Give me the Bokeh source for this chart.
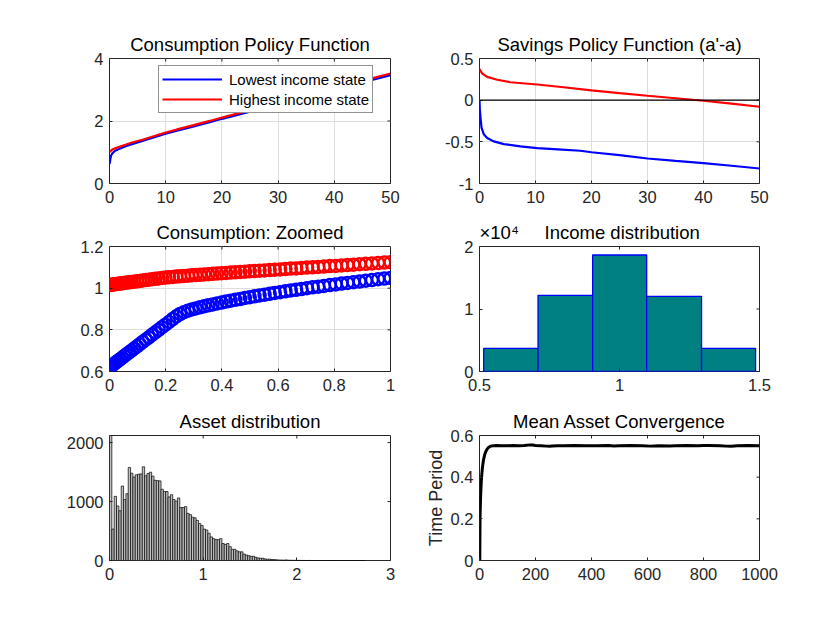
import numpy as np
from bokeh.plotting import figure
from bokeh.models import Range1d, FixedTicker, Legend, LegendItem, Span
from bokeh.layouts import column, row
from bokeh.embed import file_html
from bokeh.resources import INLINE

# ---------------- data ----------------
# consumption policy over the full asset grid
cons_a_low = [0, 0.1, 0.25, 0.5, 1, 2, 3, 4, 5, 6, 8, 10, 12, 15, 18, 20, 25, 30, 35, 40, 45, 50]
cons_low = [0.62, 0.72, 0.88, 0.965, 1.047, 1.13, 1.20, 1.26, 1.31, 1.37, 1.48, 1.59, 1.69,
            1.83, 1.97, 2.07, 2.30, 2.535, 2.77, 3.00, 3.235, 3.47]
cons_a_high = [0, 0.5, 1, 2, 3, 4, 5, 6, 8, 10, 12, 15, 18, 20, 25, 30, 35, 40, 45, 50]
cons_high = [1.015, 1.085, 1.125, 1.19, 1.25, 1.31, 1.36, 1.41, 1.52, 1.63, 1.73, 1.87, 2.01,
             2.11, 2.345, 2.58, 2.815, 3.05, 3.285, 3.52]

# savings policy a' - a
sav_a_low = [0, 0.05, 0.18, 0.36, 0.77, 1.37, 2.56, 4.35, 7.3, 10.3, 14, 18, 20, 25, 30, 35, 40, 45, 50]
sav_low = [0, -0.10, -0.21, -0.33, -0.41, -0.455, -0.495, -0.527, -0.555, -0.575, -0.59,
           -0.607, -0.625, -0.66, -0.70, -0.728, -0.755, -0.787, -0.82]
sav_a_high = [0, 0.48, 1.37, 3.16, 5.5, 10.3, 15, 20, 25, 30, 35, 40, 45, 50]
sav_high = [0.373, 0.32, 0.28, 0.245, 0.215, 0.188, 0.155, 0.118, 0.085, 0.053, 0.023,
            -0.007, -0.042, -0.079]

# consumption at the asset grid points in [0, 1]
zoom_a = [0.000, 0.002, 0.005, 0.009, 0.014, 0.019, 0.025, 0.031, 0.038, 0.045,
          0.053, 0.061, 0.070, 0.079, 0.088, 0.098, 0.108, 0.118, 0.129, 0.140,
          0.151, 0.163, 0.175, 0.187, 0.199, 0.212, 0.225, 0.238, 0.251, 0.265,
          0.279, 0.293, 0.307, 0.322, 0.337, 0.352, 0.367, 0.383, 0.399, 0.415,
          0.431, 0.448, 0.465, 0.482, 0.499, 0.516, 0.534, 0.552, 0.570, 0.588,
          0.607, 0.626, 0.645, 0.664, 0.683, 0.703, 0.723, 0.743, 0.763, 0.784,
          0.805, 0.826, 0.847, 0.868, 0.890, 0.912, 0.934, 0.956, 0.978, 1.000]
zoom_low = [0.620, 0.622, 0.625, 0.629, 0.634, 0.640, 0.646, 0.652, 0.659, 0.666,
            0.675, 0.683, 0.692, 0.701, 0.711, 0.721, 0.731, 0.742, 0.753, 0.764,
            0.776, 0.788, 0.800, 0.813, 0.825, 0.838, 0.852, 0.865, 0.876, 0.885,
            0.892, 0.898, 0.903, 0.908, 0.913, 0.918, 0.922, 0.927, 0.931, 0.936,
            0.940, 0.944, 0.948, 0.953, 0.957, 0.961, 0.965, 0.969, 0.973, 0.977,
            0.981, 0.985, 0.989, 0.992, 0.996, 1.000, 1.004, 1.007, 1.011, 1.015,
            1.018, 1.022, 1.025, 1.029, 1.032, 1.036, 1.039, 1.043, 1.046, 1.049]
zoom_high = [1.015, 1.015, 1.016, 1.017, 1.018, 1.019, 1.020, 1.021, 1.022, 1.024,
             1.025, 1.027, 1.028, 1.030, 1.031, 1.033, 1.035, 1.037, 1.039, 1.041,
             1.043, 1.045, 1.047, 1.049, 1.051, 1.053, 1.054, 1.056, 1.057, 1.059,
             1.060, 1.062, 1.063, 1.064, 1.066, 1.067, 1.069, 1.070, 1.072, 1.073,
             1.075, 1.076, 1.078, 1.079, 1.081, 1.082, 1.084, 1.085, 1.087, 1.089,
             1.090, 1.092, 1.094, 1.095, 1.097, 1.099, 1.100, 1.102, 1.104, 1.106,
             1.107, 1.109, 1.111, 1.113, 1.115, 1.117, 1.119, 1.121, 1.123, 1.125]

# income distribution histogram
income_edges = [0.515, 0.709, 0.904, 1.097, 1.293, 1.486]
income_counts = [3712, 12192, 18640, 12032, 3712]

# asset distribution histogram (bin width 0.025 starting at 0)
asset_bin_width = 0.025
asset_counts = [2120, 533, 1088, 925, 844, 1263, 1034, 1132, 1578, 1480,
                1415, 1453, 1464, 1469, 1589, 1437, 1475, 1497, 1431, 1360,
                1355, 1350, 1208, 1170, 1170, 1078, 1116, 1034, 1007, 1061,
                898, 898, 914, 800, 778, 735, 724, 680, 626, 593,
                533, 517, 463, 400, 370, 354, 354, 370, 288, 272,
                288, 234, 190, 190, 163, 147, 147, 109, 93, 82,
                71, 71, 54, 44, 38, 38, 27, 22, 22, 16,
                16, 11, 9, 8, 6, 10, 5, 4, 3, 3,
                2, 2, 1, 1, 0, 1, 0, 0, 0, 0,
                0, 0, 0, 0, 0, 0, 0, 0, 0, 0,
                0, 0, 0, 0, 0, 0, 0, 0, 0]

# mean asset path over simulated periods
conv_t = [1, 2, 4, 6, 8, 10, 12, 15, 18, 21, 25, 30, 35, 40, 50, 60, 80, 100, 120, 140, 160,
          180, 190, 200, 220, 240, 250, 260, 280, 300, 340, 380, 420, 460, 480, 500, 540, 580,
          610, 640, 680, 700, 740, 780, 800, 820, 860, 880, 900, 920, 960, 1000]
conv_mean = [0.0, 0.216, 0.31, 0.37, 0.41, 0.44, 0.462, 0.488, 0.505, 0.518, 0.53, 0.539,
             0.545, 0.549, 0.551, 0.552, 0.551, 0.551, 0.552, 0.551, 0.552, 0.555, 0.554,
             0.552, 0.551, 0.549, 0.548, 0.550, 0.551, 0.551, 0.552, 0.551, 0.551, 0.552,
             0.550, 0.551, 0.552, 0.551, 0.549, 0.551, 0.550, 0.551, 0.552, 0.551, 0.552,
             0.552, 0.551, 0.549, 0.548, 0.551, 0.552, 0.551]

# ---------------- styling ----------------
FONT = "Liberation Sans"
AX = "#262626"
GRID = "#dedede"
TICK_SIZE = "16.5px"
TITLE_SIZE = "18.5px"
TICK_LEN = 3
FRAME_H = 125


def make_panel(title, col, rix, xr, xticks, xlabels, yr, yticks, ylabels, grid):
    lb, fw, rb = (109, 281, 20) if col == 0 else (69, 280, 81)
    tb, bb = [(58, 28), (35, 28), (36, 70)][rix]
    p = figure(frame_width=fw, frame_height=FRAME_H,
               x_range=Range1d(*xr), y_range=Range1d(*yr),
               min_border_left=lb, min_border_right=rb,
               min_border_top=tb, min_border_bottom=bb,
               output_backend="svg", toolbar_location=None,
               background_fill_color="white", border_fill_color="white")
    p.outline_line_color = AX
    p.outline_line_width = 1
    p.outline_line_alpha = 1

    for ax, ticks, labels in ((p.xaxis[0], xticks, xlabels), (p.yaxis[0], yticks, ylabels)):
        ax.ticker = FixedTicker(ticks=ticks)
        ax.major_label_overrides = {t: l for t, l in zip(ticks, labels)}
        ax.axis_line_color = None
        ax.major_tick_in = TICK_LEN
        ax.major_tick_out = 0
        ax.major_tick_line_color = AX
        ax.minor_tick_line_color = None
        ax.major_label_text_font = FONT
        ax.major_label_text_font_size = TICK_SIZE
        ax.major_label_text_color = AX
    p.xaxis[0].major_label_standoff = 7
    p.yaxis[0].major_label_standoff = 6

    # mirrored inward ticks along the top and right edges of the box
    x0, x1 = xr
    y0, y1 = yr
    dy = TICK_LEN * (y1 - y0) / FRAME_H
    dx = TICK_LEN * (x1 - x0) / fw
    inner_x = [t for t in xticks if x0 < t < x1]
    inner_y = [t for t in yticks if y0 < t < y1]
    p.segment(x0=inner_x, y0=[y1] * len(inner_x), x1=inner_x, y1=[y1 - dy] * len(inner_x),
              line_color=AX, line_width=1)
    p.segment(x0=[x1] * len(inner_y), y0=inner_y, x1=[x1 - dx] * len(inner_y), y1=inner_y,
              line_color=AX, line_width=1)

    p.xgrid.ticker = FixedTicker(ticks=xticks)
    p.ygrid.ticker = FixedTicker(ticks=yticks)
    if grid:
        p.grid.grid_line_color = GRID
        p.grid.grid_line_width = 1
    else:
        p.grid.grid_line_color = None

    p.title.text = title
    p.title.align = "center"
    p.title.text_font = FONT
    p.title.text_font_size = TITLE_SIZE
    p.title.text_font_style = "normal"
    p.title.text_color = "black"
    p.title.standoff = 7
    return p


# 1: consumption policy
p1 = make_panel("Consumption Policy Function", 0, 0,
                (0, 50), [0, 10, 20, 30, 40, 50], ["0", "10", "20", "30", "40", "50"],
                (0, 4), [0, 2, 4], ["0", "2", "4"], True)
r_low = p1.line(cons_a_low, cons_low, line_color="blue", line_width=2.2)
r_high = p1.line(cons_a_high, cons_high, line_color="red", line_width=2.2)
legend = Legend(items=[LegendItem(label="Lowest income state", renderers=[r_low]),
                       LegendItem(label="Highest income state", renderers=[r_high])],
                location=(49, 70), margin=0, padding=3, spacing=0,
                glyph_width=60, glyph_height=20, label_height=20, label_standoff=7,
                label_text_font=FONT, label_text_font_size="15px", label_text_color="black",
                border_line_color=AX, border_line_width=1,
                background_fill_color="white", background_fill_alpha=1)
p1.add_layout(legend)

# 2: savings policy
p2 = make_panel("Savings Policy Function (a'-a)", 1, 0,
                (0, 50), [0, 10, 20, 30, 40, 50], ["0", "10", "20", "30", "40", "50"],
                (-1, 0.5), [-1, -0.5, 0, 0.5], ["-1", "-0.5", "0", "0.5"], True)
p2.add_layout(Span(location=0, dimension="width", line_color="black", line_width=1.2))
p2.line(sav_a_high, sav_high, line_color="red", line_width=2.2)
p2.line(sav_a_low, sav_low, line_color="blue", line_width=2.2)

# 3: zoomed consumption
p3 = make_panel("Consumption: Zoomed", 0, 1,
                (0, 1), [0, 0.2, 0.4, 0.6, 0.8, 1], ["0", "0.2", "0.4", "0.6", "0.8", "1"],
                (0.6, 1.2), [0.6, 0.8, 1, 1.2], ["0.6", "0.8", "1", "1.2"], True)
p3.scatter(zoom_a, zoom_low, marker="circle", size=12, fill_color=None,
           line_color="blue", line_width=2.5)
p3.scatter(zoom_a, zoom_high, marker="circle", size=12, fill_color=None,
           line_color="red", line_width=2.5)

# 4: income distribution (the x10^4 exponent shares the title line, at the left)
p4 = make_panel("\u00d710\u2074\u00a0\u00a0\u00a0\u00a0\u00a0Income distribution", 1, 1,
                (0.5, 1.5), [0.5, 1, 1.5], ["0.5", "1", "1.5"],
                (0, 20000), [0, 10000, 20000], ["0", "1", "2"], False)
p4.title.align = "left"
p4.quad(left=income_edges[:-1], right=income_edges[1:], top=income_counts, bottom=0,
        fill_color="#008080", line_color="blue", line_width=1.3)

# 5: asset distribution
p5 = make_panel("Asset distribution", 0, 2,
                (0, 3), [0, 1, 2, 3], ["0", "1", "2", "3"],
                (0, 2120), [0, 1000, 2000], ["0", "1000", "2000"], False)
left_edges = np.arange(len(asset_counts)) * asset_bin_width
p5.quad(left=left_edges, right=left_edges + asset_bin_width, top=asset_counts, bottom=0,
        fill_color="#bfbfbf", line_color="black", line_width=0.7)

# 6: mean asset convergence
p6 = make_panel("Mean Asset Convergence", 1, 2,
                (0, 1000), [0, 200, 400, 600, 800, 1000],
                ["0", "200", "400", "600", "800", "1000"],
                (0, 0.6), [0, 0.2, 0.4, 0.6], ["0", "0.2", "0.4", "0.6"], False)
p6.line(conv_t, conv_mean, line_color="black", line_width=3)
p6.yaxis[0].axis_label = "Time Period"
p6.yaxis[0].axis_label_text_font = FONT
p6.yaxis[0].axis_label_text_font_size = "18px"
p6.yaxis[0].axis_label_text_font_style = "normal"
p6.yaxis[0].axis_label_text_color = AX
p6.yaxis[0].axis_label_standoff = 2

layout = column(row(p1, p2, spacing=0), row(p3, p4, spacing=0), row(p5, p6, spacing=0),
                spacing=0)

open("out.html", "w").write(file_html(layout, INLINE))
